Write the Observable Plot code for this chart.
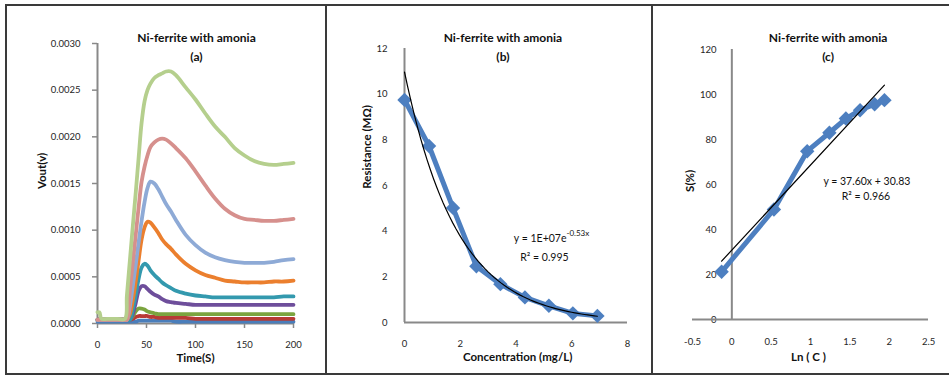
<!DOCTYPE html>
<html><head><meta charset="utf-8">
<script src="https://cdn.jsdelivr.net/npm/d3@7"></script>
<script src="https://cdn.jsdelivr.net/npm/@observablehq/plot@0.6"></script>
<style>
body{margin:0;background:#fff;width:949px;height:376px;position:relative;overflow:hidden;font-family:Lato,"Open Sans",sans-serif;}
.ln{position:absolute;background:#3a3a3a;}
.panel{position:absolute;top:6px;}
.panel svg{overflow:visible;}
</style></head><body>
<div class="ln" style="left:5px;top:4px;width:944px;height:2px"></div>
<div class="ln" style="left:5px;top:373px;width:944px;height:2px"></div>
<div class="ln" style="left:5px;top:4px;width:2px;height:371px"></div>
<div class="ln" style="left:325px;top:4px;width:2px;height:371px"></div>
<div class="ln" style="left:651px;top:4px;width:2px;height:371px"></div>
<div id="pa" class="panel" style="left:7px"></div>
<div id="pb" class="panel" style="left:327px"></div>
<div id="pc" class="panel" style="left:653px"></div>
<script>
// ---------- Panel (a): Vout vs time ----------
const timeS = [0, 2, 4, 10, 20, 28, 30, 33, 36, 39, 42, 45, 48, 51, 54, 58, 62, 66, 70, 75, 80, 90, 100, 110, 120, 130, 140, 150, 160, 170, 180, 190, 200];
const vBlue     = [0.00002,0.00002,0.00002,0.00002,0.00002,0.00002,0.00002,0.00002,0.00002,0.00002,0.00003,0.00003,0.00003,0.00003,0.00003,0.00003,0.00003,0.00003,0.00003,0.00003,0.00002,0.00002,0.00002,0.00002,0.00002,0.00002,0.00002,0.00002,0.00002,0.00002,0.00002,0.00002,0.00002];
const vDarkRed  = [0.00004,0.00004,0.00004,0.00004,0.00004,0.00004,0.00004,0.00004,0.00005,0.00007,0.00008,0.00008,0.00008,0.00008,0.00007,0.00007,0.00006,0.00006,0.00006,0.00006,0.00006,0.00006,0.00005,0.00005,0.00005,0.00005,0.00005,0.00005,0.00005,0.00005,0.00005,0.00005,0.00005];
const vGreen    = [0.00004,0.00004,0.00004,0.00004,0.00004,0.00004,0.00004,0.00004,0.00008,0.00013,0.00016,0.00016,0.00015,0.00013,0.00012,0.00011,0.00010,0.00010,0.00010,0.00010,0.00010,0.00010,0.00010,0.00010,0.00010,0.00010,0.00010,0.00010,0.00010,0.00010,0.00010,0.00010,0.00010];
const vPurple   = [0.00004,0.00004,0.00004,0.00004,0.00004,0.00004,0.00004,0.00004,0.00010,0.00022,0.00035,0.00040,0.00040,0.00037,0.00034,0.00031,0.00029,0.00026,0.00024,0.00023,0.00022,0.00021,0.00020,0.00020,0.00020,0.00020,0.00020,0.00020,0.00020,0.00020,0.00020,0.00020,0.00020];
const vTeal     = [0.00004,0.00004,0.00004,0.00004,0.00004,0.00004,0.00004,0.00004,0.00015,0.00030,0.00048,0.00060,0.00064,0.00062,0.00057,0.00052,0.00048,0.00044,0.00041,0.00038,0.00035,0.00032,0.00030,0.00029,0.00028,0.00028,0.00028,0.00028,0.00028,0.00028,0.00028,0.00029,0.00029];
const vOrange   = [0.00004,0.00004,0.00004,0.00004,0.00004,0.00004,0.00004,0.00010,0.00025,0.00045,0.00068,0.00090,0.00103,0.00109,0.00108,0.00103,0.00097,0.00090,0.00085,0.00080,0.00074,0.00064,0.00057,0.00052,0.00049,0.00046,0.00045,0.00044,0.00044,0.00044,0.00045,0.00045,0.00046];
const vLtBlue   = [0.00004,0.00004,0.00004,0.00004,0.00004,0.00004,0.00004,0.00018,0.00040,0.00063,0.00087,0.00110,0.00130,0.00145,0.00152,0.00150,0.00144,0.00136,0.00128,0.00120,0.00111,0.00095,0.00084,0.00076,0.00071,0.00068,0.00066,0.00065,0.00065,0.00065,0.00066,0.00068,0.00069];
const vPink     = [0.00004,0.00004,0.00004,0.00004,0.00004,0.00004,0.00004,0.00035,0.00065,0.00095,0.00125,0.00152,0.00168,0.00180,0.00189,0.00194,0.00197,0.00198,0.00197,0.00193,0.00188,0.00177,0.00163,0.00148,0.00134,0.00123,0.00116,0.00112,0.00111,0.00110,0.00110,0.00111,0.00112];
const vLtGreen  = [0.00012,0.00012,0.00005,0.00005,0.00005,0.00005,0.00030,0.00067,0.00104,0.00140,0.00178,0.00215,0.00238,0.00250,0.00257,0.00263,0.00266,0.00268,0.00270,0.00270,0.00266,0.00253,0.00240,0.00225,0.00211,0.00200,0.00188,0.00180,0.00174,0.00171,0.00170,0.00171,0.00172];
const seriesA = ["s1","s2","s3","s4","s5","s6","s7","s8","s9"];
const seriesAValues = [vBlue, vDarkRed, vGreen, vPurple, vTeal, vOrange, vLtBlue, vPink, vLtGreen];
const seriesAColors = ["#4a7ebb","#b83a35","#7ba43f","#6e4e9b","#3399ae","#eb7f2e","#8eaad6","#d6908d","#b5cf8d"];
const xTicksA = [0, 50, 100, 150, 200];
const yTicksA = [0, 0.0005, 0.0010, 0.0015, 0.0020, 0.0025, 0.0030];

// ---------- Panel (b): resistance vs concentration ----------
const concB = [0, 0.88, 1.74, 2.58, 3.44, 4.32, 5.18, 6.04, 6.92];
const resB  = [9.75, 7.73, 5.02, 2.46, 1.68, 1.10, 0.73, 0.40, 0.29];
const xTicksB = [0, 2, 4, 6, 8];
const yTicksB = [0, 2, 4, 6, 8, 10, 12];

// ---------- Panel (c): sensitivity vs ln C ----------
const lnC = [-0.13, 0.535, 0.958, 1.24, 1.45, 1.63, 1.815, 1.94];
const sensC = [21.2, 48.9, 74.8, 83.0, 89.3, 93.0, 95.7, 97.5];
const xTicksC = [-0.5, 0, 0.5, 1, 1.5, 2, 2.5];
const yTicksC = [0, 20, 40, 60, 80, 100, 120];

const titleText = "Ni-ferrite with amonia";
const AX = "#898989";
const FONT = "Lato, 'Open Sans', sans-serif";
const baseStyle = {fontFamily: FONT, fontSize: "9.5px", color: "#262626", background: "transparent", overflow: "visible"};
const blue = "#4d7fc0";
const TS = 12;    // chart title size
const AS = 11.5;  // axis title size

const rowsA = [];
seriesAValues.forEach((vals, i) => vals.forEach((v, j) => rowsA.push({t: timeS[j], v, s: seriesA[i]})));

const plotA = Plot.plot({
  width: 318, height: 367, marginLeft: 90, marginRight: 32, marginTop: 37, marginBottom: 50,
  style: baseStyle,
  x: {domain: [0, 200], axis: null},
  y: {domain: [0, 0.003], axis: null},
  color: {domain: seriesA, range: seriesAColors},
  marks: [
    Plot.axisY(yTicksA, {label: null, tickSize: 5, tickPadding: 12, stroke: AX, strokeWidth: 1.5, tickFormat: d3.format(".4f")}),
    Plot.axisX(xTicksA, {label: null, tickSize: 5, tickPadding: 13, stroke: AX, strokeWidth: 1.5, tickFormat: d => String(d)}),
    Plot.ruleX([0], {stroke: AX, strokeWidth: 2}),
    Plot.ruleY([0], {stroke: AX, strokeWidth: 2}),
    Plot.line(rowsA, {x: "t", y: "v", z: "s", stroke: "s", strokeWidth: 3.8, curve: "catmull-rom"}),
    Plot.text([titleText], {x: () => 101, frameAnchor: "top", dy: -10, fontWeight: "bold", fontSize: TS, fill: "#111"}),
    Plot.text(["(a)"], {x: () => 101, frameAnchor: "top", dy: 9, fontWeight: "bold", fontSize: TS, fill: "#111"}),
    Plot.text(["Time(S)"], {x: () => 100, frameAnchor: "bottom", dy: 38, fontWeight: "bold", fontSize: AS, fill: "#111"}),
    Plot.text(["Vout(v)"], {y: () => 0.00144, frameAnchor: "left", dx: -55, rotate: -90, fontWeight: "bold", fontSize: AS, fill: "#111"})
  ]
});
document.getElementById("pa").append(plotA);

// exponential trend fitted from panel (b) data (least squares on ln y)
const lnRes = resB.map(Math.log);
const mx = d3.mean(concB), my = d3.mean(lnRes);
const slopeB = d3.sum(concB, (x, i) => (x - mx) * (lnRes[i] - my)) / d3.sum(concB, x => (x - mx) ** 2);
const aB = Math.exp(my - slopeB * mx);
const fitB = d3.range(0, 61).map(k => { const x = k / 60 * d3.max(concB); return {x, y: aB * Math.exp(slopeB * x)}; });

const ptsB = concB.map((c, i) => ({x: c, y: resB[i]}));
const plotB = Plot.plot({
  width: 324, height: 367, marginLeft: 77, marginRight: 24, marginTop: 42, marginBottom: 51,
  style: baseStyle,
  x: {domain: [0, 8], axis: null},
  y: {domain: [0, 12], axis: null},
  marks: [
    Plot.axisY(yTicksB, {label: null, tickSize: 0, tickPadding: 17, tickFormat: d => String(d)}),
    Plot.axisX(xTicksB, {label: null, tickSize: 0, tickPadding: 18, tickFormat: d => String(d)}),
    Plot.ruleX([0], {stroke: AX, strokeWidth: 2}),
    Plot.ruleY([0], {stroke: AX, strokeWidth: 2}),
    Plot.line(ptsB, {x: "x", y: "y", stroke: blue, strokeWidth: 5}),
    Plot.dot(ptsB, {x: "x", y: "y", symbol: "diamond2", r: 6.5, fill: blue, stroke: "none"}),
    Plot.line(fitB, {x: "x", y: "y", stroke: "#000", strokeWidth: 1.2}),
    Plot.text(["y = 1E+07e"], {x: () => 5.81, y: () => 3.68, textAnchor: "end", fontSize: 10.5, fill: "#111"}),
    Plot.text(["-0.53x"], {x: () => 5.81, y: () => 3.92, textAnchor: "start", fontSize: 8, fill: "#111"}),
    Plot.text(["R² = 0.995"], {x: () => 5.02, y: () => 2.86, fontSize: 10.5, fill: "#111"}),
    Plot.text([titleText], {x: () => 3.53, frameAnchor: "top", dy: -15, fontWeight: "bold", fontSize: TS, fill: "#111"}),
    Plot.text(["(b)"], {x: () => 3.53, frameAnchor: "top", dy: 4, fontWeight: "bold", fontSize: TS, fill: "#111"}),
    Plot.text(["Concentration (mg/L)"], {x: () => 4.06, frameAnchor: "bottom", dy: 38, fontWeight: "bold", fontSize: AS, fill: "#111"}),
    Plot.text(["Resistance (MΩ)"], {y: () => 5.86, frameAnchor: "left", dx: -37, rotate: -90, fontWeight: "bold", fontSize: AS, fill: "#111"})
  ]
});
document.getElementById("pb").append(plotB);

const ptsC = lnC.map((x, i) => ({x, y: sensC[i]}));
const plotC = Plot.plot({
  width: 295, height: 367, marginLeft: 39, marginRight: 20, marginTop: 43, marginBottom: 54,
  style: baseStyle,
  x: {domain: [-0.5, 2.5], axis: null},
  y: {domain: [0, 120], axis: null},
  marks: [
    Plot.axisX(xTicksC, {label: null, tickSize: 0, tickPadding: 19, tickFormat: d => String(d)}),
    Plot.text(yTicksC, {y: d => d, text: d => String(d), frameAnchor: "left", dx: 24, textAnchor: "end", fill: "#262626"}),
    Plot.ruleX([0], {stroke: AX, strokeWidth: 2}),
    Plot.ruleY([0], {stroke: AX, strokeWidth: 2}),
    Plot.line(ptsC, {x: "x", y: "y", stroke: blue, strokeWidth: 5}),
    Plot.dot(ptsC, {x: "x", y: "y", symbol: "diamond2", r: 6.5, fill: blue, stroke: "none"}),
    Plot.linearRegressionY(ptsC, {x: "x", y: "y", stroke: "#000", strokeWidth: 1.2, ci: 0}),
    Plot.text(["y = 37.60x + 30.83"], {x: () => 1.717, y: () => 61.4, fontSize: 10.5, fill: "#111"}),
    Plot.text(["R² = 0.966"], {x: () => 1.705, y: () => 54.8, fontSize: 10.5, fill: "#111"}),
    Plot.text([titleText], {x: () => 1.223, frameAnchor: "top", dy: -16, fontWeight: "bold", fontSize: TS, fill: "#111"}),
    Plot.text(["(c)"], {x: () => 1.223, frameAnchor: "top", dy: 3, fontWeight: "bold", fontSize: TS, fill: "#111"}),
    Plot.text(["Ln ( C )"], {x: () => 0.974, frameAnchor: "bottom", dy: 41, fontWeight: "bold", fontSize: AS, fill: "#111"}),
    Plot.text(["S(%)"], {y: () => 56.7, frameAnchor: "left", dx: -2, rotate: -90, fontWeight: "bold", fontSize: AS, fill: "#111"})
  ]
});
document.getElementById("pc").append(plotC);
</script>
</body></html>
